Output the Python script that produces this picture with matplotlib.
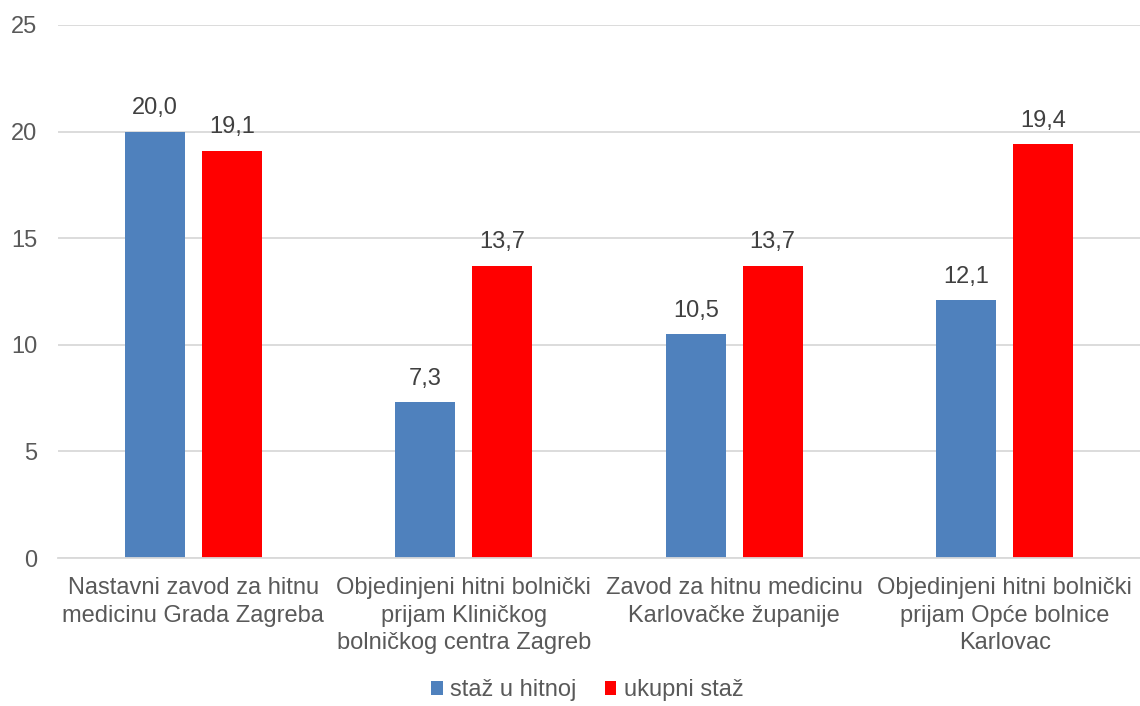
import numpy as np
import matplotlib.pyplot as plt

plt.rcParams['font.family'] = ['Liberation Sans', 'DejaVu Sans']

categories = [
    "Nastavni zavod za hitnu\nmedicinu Grada Zagreba",
    "Objedinjeni hitni bolnički\nprijam Kliničkog\nbolničkog centra Zagreb",
    "Zavod za hitnu medicinu\nKarlovačke županije",
    "Objedinjeni hitni bolnički\nprijam Opće bolnice\nKarlovac",
]
staz_hitna = [20.0, 7.3, 10.5, 12.1]
ukupni_staz = [19.1, 13.7, 13.7, 19.4]
series_names = ["staž u hitnoj", "ukupni staž"]
colors = ["#4F81BD", "#FF0000"]

fs = 17

fig = plt.figure(figsize=(11.4, 7.06), dpi=100)
ax = fig.add_axes([0.051, 0.2096, 0.949, 0.755])

x = np.arange(len(categories))
w = 0.222
off = 0.142
for vals, d, c, name in [(staz_hitna, -off, colors[0], series_names[0]),
                         (ukupni_staz, off, colors[1], series_names[1])]:
    bars = ax.bar(x + d, vals, w, color=c, label=name, zorder=2)
    for b, v in zip(bars, vals):
        ax.annotate(f"{v:.1f}".replace(".", ","),
                    (b.get_x() + b.get_width() / 2, v),
                    xytext=(0, 9), textcoords="offset points",
                    ha="center", va="bottom", fontsize=fs, color="#404040")

ax.set_xlim(-0.5, len(categories) - 0.5)
ax.set_ylim(0, 25)
ax.set_yticks(range(0, 26, 5))
ax.yaxis.grid(True, color="#D9D9D9", linewidth=1.3, zorder=0)
ax.set_axisbelow(True)
for s in ["top", "right", "left"]:
    ax.spines[s].set_visible(False)
ax.spines["bottom"].set_color("#D9D9D9")
ax.spines["bottom"].set_linewidth(1.3)
ax.tick_params(axis="both", length=0, labelsize=fs, colors="#595959")
ax.tick_params(axis="y", pad=15)
ax.tick_params(axis="x", pad=14)
ax.set_xticks(x)
ax.set_xticklabels(categories, linespacing=1.3)

leg = fig.legend(*ax.get_legend_handles_labels(), loc="center",
                 bbox_to_anchor=(0.515, 0.022), ncol=2, frameon=False,
                 fontsize=fs, handlelength=0.5, handleheight=0.5,
                 handletextpad=0.3, columnspacing=1.2)
for t in leg.get_texts():
    t.set_color("#595959")

fig.savefig("out.png", dpi=100)
